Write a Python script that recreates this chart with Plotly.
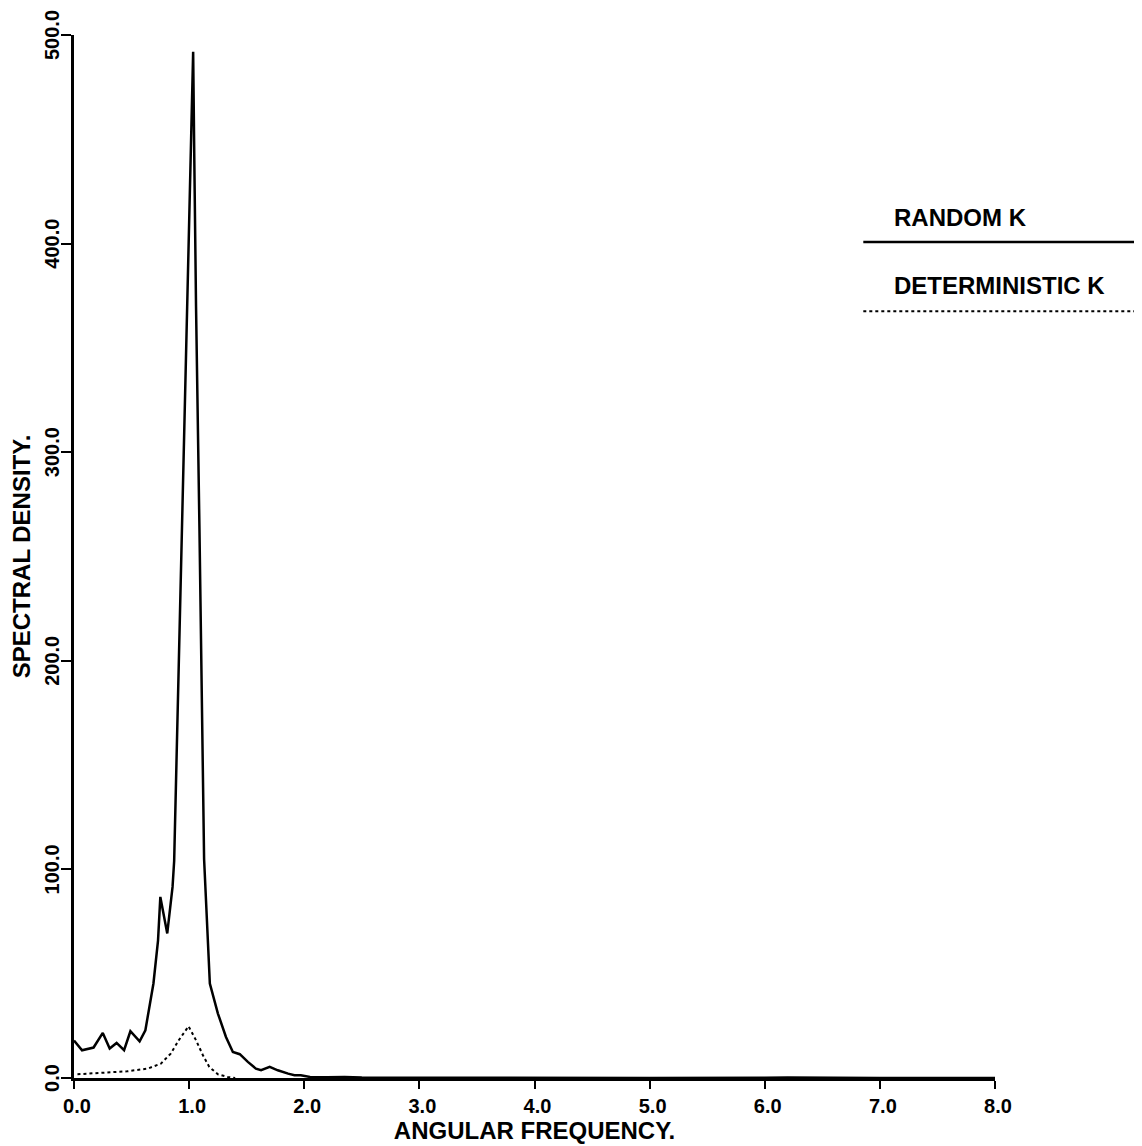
import plotly.graph_objects as go

# Random K spectral density (solid)
freq_random = [0.0, 0.07, 0.17, 0.25, 0.31, 0.37, 0.435, 0.49, 0.57, 0.62, 0.65, 0.69,
               0.73, 0.75, 0.81, 0.856, 0.87, 1.035, 1.045, 1.06, 1.09, 1.13, 1.18, 1.25,
               1.32, 1.38, 1.44, 1.51, 1.58, 1.625, 1.70, 1.77, 1.86, 1.915, 1.97, 2.05,
               2.2, 2.35, 2.5, 3.0, 4.0, 5.0, 6.0, 6.2, 7.0, 8.0]
sd_random = [18.0, 13.3, 14.6, 21.6, 14.1, 16.8, 13.3, 22.4, 17.6, 22.9, 32.5, 45.3,
             66.0, 86.8, 69.3, 91.6, 104.0, 492.0, 440.0, 370.0, 262.0, 105.0, 45.3, 30.9,
             19.7, 12.5, 11.4, 7.7, 4.5, 3.7, 5.3, 3.7, 2.1, 1.3, 1.3, 0.5,
             0.4, 0.5, 0.2, 0.1, 0.05, 0.05, 0.1, 0.2, 0.05, 0.0]

# Deterministic K spectral density (dotted)
freq_det = [0.03, 0.23, 0.46, 0.64, 0.755, 0.84, 0.91, 0.995, 1.06, 1.12, 1.175, 1.25, 1.335, 1.4]
sd_det = [1.8, 2.4, 3.2, 4.5, 6.9, 11.7, 18.1, 24.8, 18.1, 10.9, 5.3, 1.8, 0.5, 0.0]

x_ticks = [0, 1, 2, 3, 4, 5, 6, 7, 8]
y_ticks = [0, 100, 200, 300, 400, 500]

legend_labels = ["RANDOM K", "DETERMINISTIC K"]

FONT = "Liberation Sans, Arial, Helvetica, sans-serif"

fig = go.Figure()
fig.add_trace(go.Scatter(x=freq_random, y=sd_random, mode="lines",
                         line=dict(color="black", width=2.5), name=legend_labels[0]))
fig.add_trace(go.Scatter(x=freq_det, y=sd_det, mode="lines",
                         line=dict(color="black", width=2, dash="dot"), name=legend_labels[1]))

fig.update_layout(
    width=1134, height=1138,
    margin=dict(l=66, r=147, t=27, b=68, autoexpand=False),
    plot_bgcolor="white", paper_bgcolor="white",
    showlegend=False,
    font=dict(family=FONT, color="black"),
)
fig.update_xaxes(
    range=[0, 8], tickvals=x_ticks, tickformat=".1f",
    showgrid=False, zeroline=False, showline=True, linecolor="black", linewidth=2.5,
    ticks="outside", ticklen=8, tickwidth=2, tickcolor="black",
    tickfont=dict(family=FONT, size=20, weight="bold"),
    ticklabeloverflow="allow", ticklabelshift=3,
    title=dict(text="ANGULAR FREQUENCY.", font=dict(family=FONT, size=24, weight="bold"), standoff=2),
    automargin=False,
)
fig.update_yaxes(
    range=[0, 500], tickvals=y_ticks, tickformat=".1f", tickangle=-90,
    showgrid=False, zeroline=False, showline=True, linecolor="black", linewidth=2.5,
    ticks="outside", ticklen=10, tickwidth=2, tickcolor="black",
    tickfont=dict(family=FONT, size=20, weight="bold"),
    ticklabeloverflow="allow", ticklabelstandoff=-6, ticklabelshift=3,
    title=dict(text="SPECTRAL DENSITY.", font=dict(family=FONT, size=24, weight="bold"), standoff=8),
    automargin=False,
)

# Legend drawn at the right side
fig.add_annotation(text=legend_labels[0], xref="paper", yref="paper", x=0.888, y=0.8255,
                   xanchor="left", yanchor="middle", showarrow=False,
                   font=dict(family=FONT, size=24, weight="bold"))
fig.add_annotation(text=legend_labels[1], xref="paper", yref="paper", x=0.888, y=0.760,
                   xanchor="left", yanchor="middle", showarrow=False,
                   font=dict(family=FONT, size=24, weight="bold"))
fig.add_shape(type="line", xref="paper", yref="paper", x0=0.857, x1=1.161, y0=0.8015, y1=0.8015,
              line=dict(color="black", width=2.5))
fig.add_shape(type="line", xref="paper", yref="paper", x0=0.857, x1=1.161, y0=0.7352, y1=0.7352,
              line=dict(color="black", width=2, dash="dot"))

fig.write_html("out.html")
